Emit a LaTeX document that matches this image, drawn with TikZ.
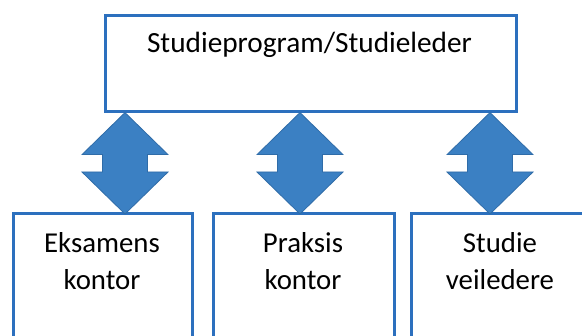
\documentclass[tikz,border=0pt]{standalone}
\usepackage{fontspec}
\setmainfont{Carlito}
\usetikzlibrary{calc}
\definecolor{boxblue}{RGB}{44,112,190}
\definecolor{arrfill}{RGB}{59,128,195}
\definecolor{arrline}{RGB}{47,108,168}
\newcommand\dblvarrow[2]{%
  \draw[updown] (#1) -- ++(43,42) -- ++(-20.5,0) |- ($(#2)+(22.5,-42)$)
    -- ++(20.5,0) -- (#2) -- ++(-43,-42) -- ++(20.5,0) |- ($(#1)+(-22.5,42)$)
    -- ++(-20.5,0) -- cycle;}
\begin{document}
\begin{tikzpicture}[x=1pt,y=-1pt,
  box/.style={draw=boxblue, line width=2.6pt, fill=white, rectangle, inner sep=0pt},
  lbl/.style={font=\fontsize{28.8}{37}\selectfont, align=center, inner sep=0pt, anchor=base},
  updown/.style={fill=arrfill, draw=arrline, line width=0.8pt, line join=miter}]
\clip (0,0) rectangle (582,336);
\fill[white] (0,0) rectangle (582,336);
% boxes
\node[box, anchor=north west, minimum width=411pt, minimum height=96pt] (top) at (104,14) {};
\node[box, anchor=north west, minimum width=179pt, minimum height=140pt] (eks) at (12,212) {};
\node[box, anchor=north west, minimum width=181pt, minimum height=140pt] (pra) at (212,212) {};
\node[box, anchor=north west, minimum width=180pt, minimum height=140pt] (stu) at (410,212) {};
% texts
\node[lbl, font=\fontsize{29.3}{37}\selectfont] (ttop) at (309.5,53) {Studieprogram/Studieleder};
\node[lbl] (teks) at (102,290) {Eksamens\\kontor};
\node[lbl] (tpra) at (303,290) {Praksis\\kontor};
\node[lbl] (tstu) at (500,290) {Studie\\veiledere};
% arrows
\coordinate (c1) at (125,0);
\coordinate (c2) at (300,0);
\coordinate (c3) at (490,0);
\coordinate (a1t) at (top.south -| c1);
\coordinate (a1b) at ($(eks.north -| c1)+(0,2)$);
\coordinate (a2t) at (top.south -| c2);
\coordinate (a2b) at ($(pra.north -| c2)+(0,2)$);
\coordinate (a3t) at (top.south -| c3);
\coordinate (a3b) at ($(stu.north -| c3)+(0,2)$);
\dblvarrow{a1t}{a1b}
\dblvarrow{a2t}{a2b}
\dblvarrow{a3t}{a3b}
\end{tikzpicture}
\end{document}
